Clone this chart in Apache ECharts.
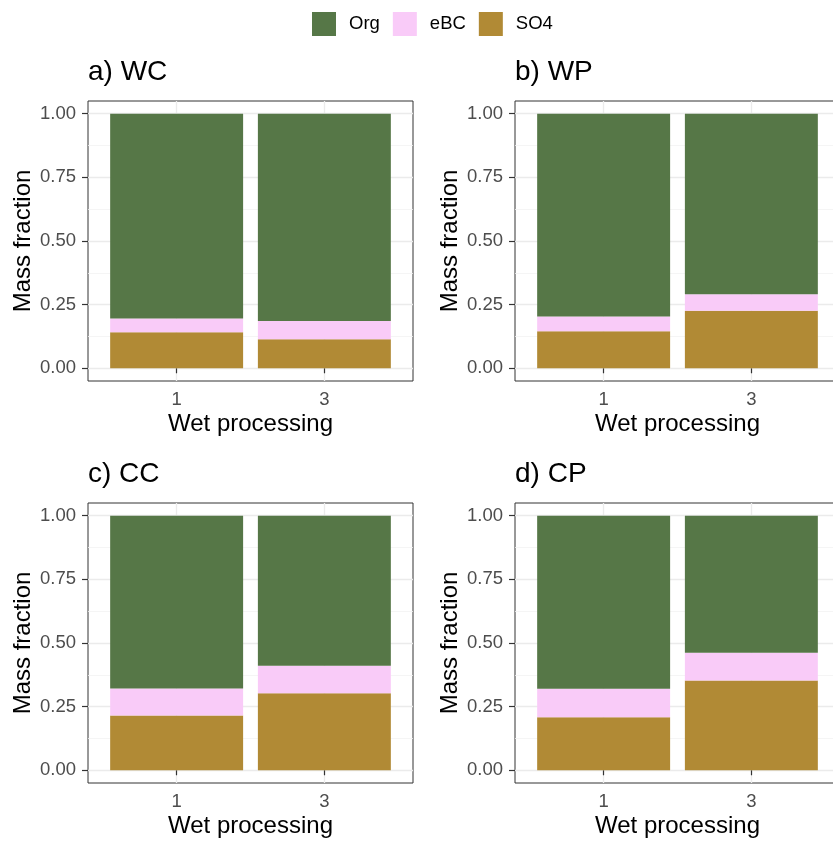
<!DOCTYPE html>
<html><head><meta charset="utf-8">
<script src="https://cdn.jsdelivr.net/npm/echarts@6/dist/echarts.min.js"></script>
<style>html,body{margin:0;padding:0;background:#fff;overflow:hidden}#c{width:842px;height:842px}</style>
</head><body><div id="c"></div>
<script>
const categories = ['1', '3'];
const catPos = [1, 2];
const panelTitles = ['a) WC', 'b) WP', 'c) CC', 'd) CP'];
const so4 = [[0.142, 0.114], [0.145, 0.226], [0.215, 0.303], [0.208, 0.353]];
const ebc = [[0.054, 0.072], [0.058, 0.065], [0.106, 0.108], [0.112, 0.109]];
const org = [[0.804, 0.814], [0.797, 0.709], [0.679, 0.589], [0.680, 0.538]];
const yMajor = [0, 0.25, 0.5, 0.75, 1];
const yMinor = [0.125, 0.375, 0.625, 0.875];
const yTickLabels = ['0.00', '0.25', '0.50', '0.75', '1.00'];
const seriesNames = ['Org', 'eBC', 'SO4'];

const colors = { Org: '#567747', eBC: '#F9CBF8', SO4: '#B18A35' };
const font = 'Liberation Sans, Arial, sans-serif';
const gridPos = [
  { left: 88, top: 101 }, { left: 515, top: 101 },
  { left: 88, top: 503 }, { left: 515, top: 503 }
];
const W = 325, H = 280;

const grids = [], xAxes = [], yAxes = [], series = [], titles = [];
gridPos.forEach((g, p) => {
  grids.push({ left: g.left, top: g.top, width: W, height: H, show: true,
    borderColor: '#333333', borderWidth: 1, backgroundColor: 'transparent', containLabel: false });
  titles.push({ text: panelTitles[p], left: g.left - 5, top: g.top - 48,
    textStyle: { fontFamily: font, fontSize: 28, fontWeight: 'normal', color: '#000' } });
  xAxes.push({ type: 'value', gridIndex: p, min: 0.4, max: 2.6,
    name: 'Wet processing', nameLocation: 'middle', nameGap: 31,
    nameTextStyle: { fontFamily: font, fontSize: 24, color: '#000' },
    axisLine: { show: false },
    axisTick: { show: true, length: 5, customValues: catPos, lineStyle: { color: '#333', width: 1.2 } },
    axisLabel: { customValues: catPos, formatter: v => categories[catPos.indexOf(v)],
      fontFamily: font, fontSize: 18.5, color: '#4D4D4D', margin: 9 },
    splitLine: { show: true, lineStyle: { color: '#EBEBEB', width: 1.3 } } });
  yAxes.push({ type: 'value', gridIndex: p, min: -0.05, max: 1.05,
    name: 'Mass fraction', nameLocation: 'middle', nameGap: 53,
    nameTextStyle: { fontFamily: font, fontSize: 24, color: '#000' },
    axisLine: { show: false },
    axisTick: { show: true, length: 6, customValues: yMajor, lineStyle: { color: '#333', width: 1.2 } },
    axisLabel: { customValues: yMajor, formatter: v => yTickLabels[yMajor.indexOf(v)],
      fontFamily: font, fontSize: 18.5, color: '#4D4D4D', margin: 12 },
    splitLine: { show: true, lineStyle: { color: '#EBEBEB', width: 1.3 } } });
  yAxes.push({ type: 'value', gridIndex: p, min: -0.05, max: 1.05,
    axisLine: { show: false },
    axisTick: { show: false, customValues: yMinor },
    axisLabel: { show: false, customValues: yMinor },
    splitLine: { show: true, lineStyle: { color: '#F3F3F3', width: 0.8 } } });
  const vals = { Org: org[p], eBC: ebc[p], SO4: so4[p] };
  ['SO4', 'eBC', 'Org'].forEach(n => {
    series.push({ type: 'bar', name: n, xAxisIndex: p, yAxisIndex: p * 2, stack: 'g' + p,
      barWidth: '90%', itemStyle: { color: colors[n] }, silent: true,
      encode: { x: 1, y: 0 },
      data: catPos.map((x, i) => [vals[n][i], x]) });
  });
});

const chart = echarts.init(document.getElementById('c'), null, { renderer: 'canvas' });
chart.setOption({
  animation: false,
  backgroundColor: '#fff',
  title: titles,
  legend: { data: seriesNames, left: 312, top: 12, padding: 0, icon: 'rect', itemWidth: 24, itemHeight: 24,
    itemGap: 13, textStyle: { fontFamily: font, fontSize: 18.5, color: '#000', padding: [0, 0, 0, 8] } },
  grid: grids, xAxis: xAxes, yAxis: yAxes, series: series
});
</script></body></html>
